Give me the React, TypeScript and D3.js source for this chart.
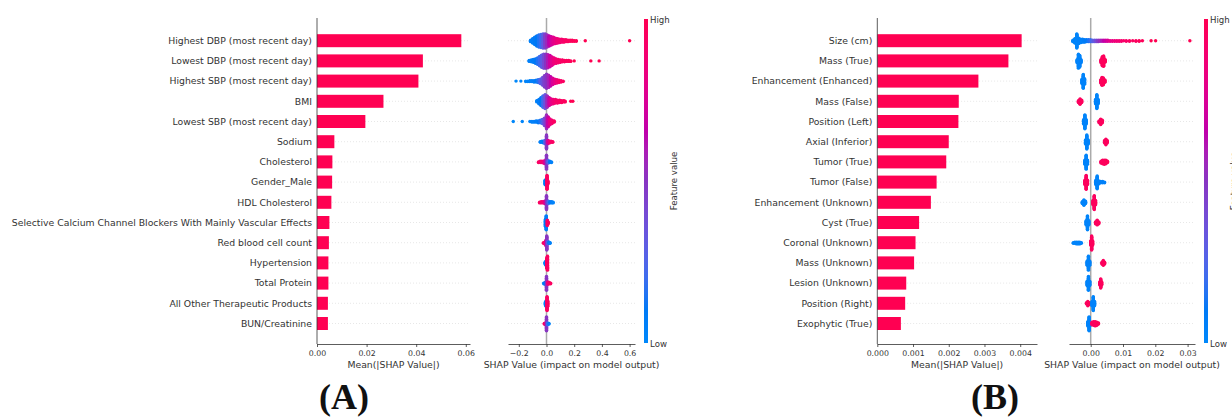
import { useEffect, useRef } from 'react';
import * as d3 from 'd3';

// one beeswarm bin: [shap value, number of points, feature value 0 (low) .. 1 (high)]
type Bin = [number, number, number];

const featuresA = [
  'Highest DBP (most recent day)',
  'Lowest DBP (most recent day)',
  'Highest SBP (most recent day)',
  'BMI',
  'Lowest SBP (most recent day)',
  'Sodium',
  'Cholesterol',
  'Gender_Male',
  'HDL Cholesterol',
  'Selective Calcium Channel Blockers With Mainly Vascular Effects',
  'Red blood cell count',
  'Hypertension',
  'Total Protein',
  'All Other Therapeutic Products',
  'BUN/Creatinine',
];
const meanAbsA = [0.0582, 0.0427, 0.0409, 0.0268, 0.0195, 0.007, 0.0062, 0.0061, 0.0058, 0.005, 0.0048, 0.0046, 0.0046, 0.0044, 0.0044];
const swarmA: Bin[][] = [
  [[-0.115, 4, 0.05], [-0.1, 10, 0.08], [-0.085, 16, 0.1], [-0.07, 22, 0.12], [-0.055, 26, 0.15], [-0.04, 28, 0.2], [-0.025, 30, 0.3], [-0.01, 30, 0.45], [0.005, 26, 0.55], [0.02, 22, 0.65], [0.035, 18, 0.72], [0.05, 15, 0.78], [0.065, 12, 0.82], [0.08, 10, 0.86], [0.095, 8, 0.88], [0.11, 7, 0.9], [0.125, 6, 0.92], [0.14, 5, 0.94], [0.155, 4, 0.95], [0.17, 3, 0.96], [0.185, 3, 0.97], [0.2, 2, 0.98], [0.215, 2, 0.98], [0.28, 1, 1], [0.6, 1, 1]],
  [[-0.125, 3, 0.05], [-0.11, 5, 0.06], [-0.095, 7, 0.08], [-0.08, 10, 0.1], [-0.065, 14, 0.15], [-0.05, 20, 0.2], [-0.035, 26, 0.3], [-0.02, 30, 0.4], [-0.005, 30, 0.5], [0.01, 28, 0.6], [0.025, 24, 0.7], [0.04, 18, 0.78], [0.055, 13, 0.84], [0.07, 10, 0.88], [0.085, 8, 0.9], [0.1, 6, 0.92], [0.115, 5, 0.94], [0.13, 4, 0.95], [0.145, 3, 0.96], [0.16, 3, 0.97], [0.175, 2, 0.98], [0.2, 1, 1], [0.32, 1, 1], [0.38, 1, 1]],
  [[-0.22, 1, 0], [-0.185, 1, 0.02], [-0.15, 2, 0.03], [-0.135, 2, 0.04], [-0.12, 3, 0.05], [-0.105, 3, 0.06], [-0.09, 4, 0.08], [-0.075, 5, 0.1], [-0.06, 7, 0.15], [-0.045, 10, 0.25], [-0.03, 16, 0.35], [-0.015, 24, 0.45], [0, 30, 0.5], [0.015, 26, 0.58], [0.03, 20, 0.66], [0.045, 14, 0.74], [0.06, 10, 0.8], [0.075, 8, 0.85], [0.09, 6, 0.9], [0.105, 4, 0.93], [0.12, 2, 0.95]],
  [[-0.07, 3, 0.05], [-0.055, 8, 0.08], [-0.04, 14, 0.12], [-0.025, 20, 0.2], [-0.01, 24, 0.35], [0.005, 20, 0.55], [0.02, 14, 0.7], [0.035, 10, 0.8], [0.05, 8, 0.86], [0.065, 7, 0.9], [0.08, 6, 0.92], [0.095, 5, 0.94], [0.11, 4, 0.95], [0.125, 3, 0.96], [0.135, 2, 0.97], [0.175, 1, 1], [0.19, 1, 1]],
  [[-0.24, 1, 0], [-0.175, 1, 0.02], [-0.12, 1, 0.04], [-0.105, 2, 0.05], [-0.09, 2, 0.06], [-0.075, 3, 0.08], [-0.06, 4, 0.1], [-0.045, 5, 0.15], [-0.03, 7, 0.25], [-0.015, 12, 0.4], [0, 22, 0.55], [0.012, 16, 0.7], [0.025, 10, 0.82], [0.04, 6, 0.9], [0.055, 3, 0.95]],
  [[-0.045, 2, 0.05], [-0.033, 3, 0.08], [-0.022, 4, 0.12], [-0.011, 6, 0.25], [0, 24, 0.5], [0.011, 6, 0.75], [0.022, 4, 0.88], [0.033, 3, 0.92], [0.045, 2, 0.95]],
  [[-0.058, 2, 0.95], [-0.046, 3, 0.92], [-0.034, 3, 0.9], [-0.022, 4, 0.85], [-0.011, 6, 0.75], [0, 24, 0.5], [0.012, 5, 0.25], [0.024, 3, 0.12], [0.036, 2, 0.06]],
  [[-0.01, 8, 0.05], [-0.003, 10, 0.1], [0.004, 24, 0.95], [0.01, 6, 0.95]],
  [[-0.05, 2, 0.95], [-0.038, 3, 0.92], [-0.026, 3, 0.88], [-0.013, 5, 0.78], [0, 24, 0.5], [0.013, 5, 0.22], [0.026, 3, 0.12], [0.038, 3, 0.08], [0.048, 2, 0.04]],
  [[-0.008, 12, 0.05], [-0.002, 24, 0.08], [0.006, 10, 0.95], [0.012, 4, 0.95]],
  [[-0.022, 2, 0.95], [-0.012, 4, 0.9], [-0.004, 10, 0.8], [0.002, 24, 0.5], [0.01, 5, 0.3], [0.018, 3, 0.1], [0.026, 2, 0.05]],
  [[-0.01, 4, 0.05], [-0.004, 8, 0.06], [0.002, 18, 0.95], [0.007, 24, 0.95]],
  [[-0.02, 2, 0.05], [-0.01, 4, 0.1], [0, 24, 0.5], [0.01, 5, 0.85], [0.02, 3, 0.92], [0.03, 2, 0.95]],
  [[-0.008, 6, 0.05], [-0.003, 10, 0.06], [0.004, 24, 0.95], [0.009, 10, 0.95]],
  [[-0.016, 2, 0.95], [-0.008, 4, 0.9], [0, 24, 0.5], [0.008, 4, 0.2], [0.018, 2, 0.05]],
];
const barTicksA = [0, 0.02, 0.04, 0.06];
const swarmTicksA = [-0.2, 0, 0.2, 0.4, 0.6];

const featuresB = [
  'Size (cm)',
  'Mass (True)',
  'Enhancement (Enhanced)',
  'Mass (False)',
  'Position (Left)',
  'Axial (Inferior)',
  'Tumor (True)',
  'Tumor (False)',
  'Enhancement (Unknown)',
  'Cyst (True)',
  'Coronal (Unknown)',
  'Mass (Unknown)',
  'Lesion (Unknown)',
  'Position (Right)',
  'Exophytic (True)',
];
const meanAbsB = [0.00404, 0.00367, 0.00283, 0.00228, 0.00227, 0.002, 0.00193, 0.00166, 0.0015, 0.00117, 0.00107, 0.00103, 0.00081, 0.00078, 0.00066];
const swarmB: Bin[][] = [
  [[-0.0055, 4, 0.02], [-0.0049, 10, 0.03], [-0.0043, 30, 0.03], [-0.0037, 12, 0.04], [-0.0031, 8, 0.05], [-0.0025, 7, 0.06], [-0.0019, 6, 0.08], [-0.0013, 5, 0.1], [-0.0007, 5, 0.14], [-0.0001, 5, 0.18], [0.0005, 4, 0.25], [0.0011, 4, 0.32], [0.0017, 4, 0.4], [0.0023, 4, 0.48], [0.0029, 3, 0.55], [0.0035, 3, 0.6], [0.0041, 3, 0.66], [0.0047, 3, 0.7], [0.0053, 3, 0.75], [0.006, 2, 0.8], [0.0067, 2, 0.82], [0.0074, 2, 0.85], [0.0081, 2, 0.87], [0.0088, 2, 0.88], [0.0095, 2, 0.9], [0.0102, 1, 0.92], [0.011, 2, 0.93], [0.012, 2, 0.94], [0.013, 1, 0.95], [0.014, 2, 0.96], [0.015, 2, 0.97], [0.016, 1, 0.98], [0.0187, 1, 1], [0.0201, 1, 1], [0.0307, 1, 1]],
  [[-0.0042, 6, 0.03], [-0.0038, 24, 0.03], [-0.0034, 20, 0.04], [-0.003, 6, 0.05], [0.0032, 6, 0.95], [0.0036, 16, 0.96], [0.004, 18, 0.97], [0.0045, 5, 0.98]],
  [[-0.0027, 8, 0.03], [-0.0023, 24, 0.03], [-0.0019, 10, 0.04], [0.0031, 6, 0.95], [0.0035, 14, 0.96], [0.0039, 12, 0.97], [0.0044, 5, 0.98]],
  [[-0.0038, 4, 0.95], [-0.0033, 10, 0.96], [-0.0028, 5, 0.97], [0.0015, 8, 0.04], [0.0019, 24, 0.03], [0.0023, 8, 0.04]],
  [[-0.0022, 8, 0.03], [-0.0018, 24, 0.03], [-0.0014, 8, 0.04], [0.0026, 4, 0.95], [0.0031, 10, 0.96], [0.0036, 5, 0.97]],
  [[-0.0016, 8, 0.03], [-0.0012, 24, 0.03], [-0.0008, 8, 0.04], [0.0043, 5, 0.95], [0.0047, 10, 0.96], [0.0051, 5, 0.97]],
  [[-0.0018, 8, 0.03], [-0.0014, 24, 0.03], [-0.001, 8, 0.04], [0.0032, 4, 0.95], [0.0037, 7, 0.96], [0.0042, 8, 0.96], [0.0047, 7, 0.97], [0.0052, 3, 0.98]],
  [[-0.0018, 8, 0.96], [-0.0014, 24, 0.96], [-0.001, 8, 0.97], [0.0016, 8, 0.04], [0.002, 22, 0.03], [0.0025, 6, 0.04], [0.0031, 3, 0.05], [0.0037, 3, 0.05], [0.0043, 2, 0.06]],
  [[-0.0026, 4, 0.03], [-0.0021, 10, 0.03], [-0.0016, 5, 0.04], [0.0007, 8, 0.96], [0.0011, 24, 0.96], [0.0015, 8, 0.97]],
  [[-0.0014, 8, 0.03], [-0.001, 24, 0.03], [-0.0006, 8, 0.04], [0.0015, 4, 0.95], [0.002, 9, 0.96], [0.0025, 4, 0.97]],
  [[-0.0054, 2, 0.03], [-0.0049, 3, 0.03], [-0.0044, 4, 0.03], [-0.0039, 4, 0.03], [-0.0034, 4, 0.03], [-0.0029, 2, 0.04], [0, 8, 0.96], [0.0003, 24, 0.96], [0.0006, 8, 0.97]],
  [[-0.0011, 8, 0.03], [-0.0007, 24, 0.03], [-0.0003, 8, 0.04], [0.0035, 4, 0.95], [0.0039, 9, 0.96], [0.0043, 4, 0.97]],
  [[-0.0011, 8, 0.03], [-0.0007, 24, 0.03], [-0.0003, 8, 0.04], [0.0028, 6, 0.95], [0.0031, 16, 0.96], [0.0034, 6, 0.97]],
  [[-0.0013, 3, 0.95], [-0.0009, 8, 0.96], [-0.0005, 4, 0.97], [0.0004, 8, 0.04], [0.0008, 24, 0.03], [0.0012, 8, 0.04]],
  [[-0.0009, 8, 0.03], [-0.0005, 24, 0.03], [-0.0001, 6, 0.04], [0.0004, 5, 0.95], [0.0009, 7, 0.96], [0.0014, 8, 0.96], [0.0019, 6, 0.97], [0.0024, 3, 0.98]],
];
const barTicksB = [0, 0.001, 0.002, 0.003, 0.004];
const swarmTicksB = [0, 0.01, 0.02, 0.03];

const W = 1232;
const H = 418;
const FONT = '"DejaVu Sans", sans-serif';
const TEXT = '#333333';
const RED = '#ff0052';

// shap-like red_blue map: blue -> violet -> red
const redBlue = d3.piecewise(d3.interpolateHcl, [
  d3.hcl(266.9, 70, 54),
  d3.hcl(312, 80, 40),
  d3.hcl(380.3, 90, 54),
]);

interface Panel {
  id: string;
  title: string;
  titleX: number;
  features: string[];
  values: number[];
  bins: Bin[][];
  barTicks: number[];
  swarmTicks: number[];
  barFmt: string;
  swarmFmt: string;
  barDomain: [number, number];
  barRange: [number, number];
  swarmDomain: [number, number];
  swarmRange: [number, number];
  cbX: number;
}

const panels: Panel[] = [
  {
    id: 'A', title: '(A)', titleX: 344,
    features: featuresA, values: meanAbsA, bins: swarmA,
    barTicks: barTicksA, swarmTicks: swarmTicksA, barFmt: '.2f', swarmFmt: '.1f',
    barDomain: [0, 0.0617], barRange: [317, 470],
    swarmDomain: [-0.278, 0.639], swarmRange: [508, 635],
    cbX: 644,
  },
  {
    id: 'B', title: '(B)', titleX: 995,
    features: featuresB, values: meanAbsB, bins: swarmB,
    barTicks: barTicksB, swarmTicks: swarmTicksB, barFmt: '.3f', swarmFmt: '.2f',
    barDomain: [0, 0.00447], barRange: [877.3, 1037],
    swarmDomain: [-0.00672, 0.03229], swarmRange: [1069, 1195],
    cbX: 1204,
  },
];

const TOP = 18;
const BOTTOM = 344;

function drawPanel(svg: d3.Selection<SVGSVGElement, unknown, null, undefined>, p: Panel) {
  const y = d3.scalePoint<string>().domain(p.features).range([40.7, 323.5]);
  const step = y.step();
  const xb = d3.scaleLinear().domain(p.barDomain).range(p.barRange);
  const xs = d3.scaleLinear().domain(p.swarmDomain).range(p.swarmRange);
  const g = svg.append('g');

  // dotted row guides
  p.features.forEach((f) => {
    [[xb.range()[0], xb.range()[1]], [xs.range()[0], xs.range()[1]]].forEach(([a, b]) => {
      g.append('line')
        .attr('x1', a).attr('x2', b)
        .attr('y1', y(f)!).attr('y2', y(f)!)
        .attr('stroke', '#cccccc').attr('stroke-width', 0.6)
        .attr('stroke-dasharray', '0.8,2.2');
    });
  });

  // bars
  g.selectAll('rect.bar')
    .data(p.features)
    .enter()
    .append('rect')
    .attr('class', 'bar')
    .attr('x', xb(0))
    .attr('y', (f) => y(f)! - 6.5)
    .attr('width', (_, i) => xb(p.values[i]) - xb(0))
    .attr('height', 13)
    .attr('fill', RED);

  g.selectAll('text.feat')
    .data(p.features)
    .enter()
    .append('text')
    .attr('class', 'feat')
    .attr('x', xb(0) - 5)
    .attr('y', (f) => y(f)!)
    .attr('dy', '0.35em')
    .attr('text-anchor', 'end')
    .attr('font-family', FONT)
    .attr('font-size', 9.3)
    .attr('fill', TEXT)
    .text((f) => f);

  // bar axes
  g.append('line')
    .attr('x1', xb(0)).attr('x2', xb(0))
    .attr('y1', TOP).attr('y2', BOTTOM)
    .attr('stroke', TEXT).attr('stroke-width', 0.8);

  const styleAxis = (sel: d3.Selection<SVGGElement, unknown, null, undefined>) => {
    sel.select('.domain').attr('stroke', TEXT).attr('stroke-width', 0.8);
    sel.selectAll('.tick line').attr('stroke', TEXT).attr('stroke-width', 0.8);
    sel.selectAll('.tick text')
      .attr('font-family', FONT)
      .attr('font-size', 7.8)
      .attr('fill', TEXT);
  };

  const barAxis = g.append('g')
    .attr('transform', `translate(0,${BOTTOM})`)
    .call(
      d3.axisBottom(xb).tickValues(p.barTicks).tickFormat(d3.format(p.barFmt) as any)
        .tickSize(3).tickSizeOuter(0)
    );
  styleAxis(barAxis);

  g.append('text')
    .attr('x', (xb.range()[0] + xb.range()[1]) / 2)
    .attr('y', 367.5)
    .attr('text-anchor', 'middle')
    .attr('font-family', FONT)
    .attr('font-size', 9.3)
    .attr('fill', TEXT)
    .text('Mean(|SHAP Value|)');

  // beeswarm
  g.append('line')
    .attr('x1', xs(0)).attr('x2', xs(0))
    .attr('y1', TOP).attr('y2', BOTTOM)
    .attr('stroke', '#aaaaaa').attr('stroke-width', 1.5);

  p.bins.forEach((row, i) => {
    const cy = y(p.features[i])!;
    const maxLayer = d3.max(row, (b) => Math.ceil((b[1] - 1) / 2)) || 1;
    const k = (step * 0.36) / maxLayer;
    const dots: { x: number; dy: number; c: string }[] = [];
    row.forEach(([v, n, fv]) => {
      for (let j = 0; j < n; j++) {
        const layer = Math.ceil(j / 2) * ((j % 2) * 2 - 1);
        dots.push({ x: xs(v), dy: layer * k, c: redBlue(fv) });
      }
    });
    g.append('g')
      .selectAll('circle')
      .data(dots)
      .enter()
      .append('circle')
      .attr('cx', (d) => d.x)
      .attr('cy', (d) => cy + d.dy)
      .attr('r', 1.7)
      .attr('fill', (d) => d.c);
  });

  const swarmAxis = g.append('g')
    .attr('transform', `translate(0,${BOTTOM})`)
    .call(
      d3.axisBottom(xs).tickValues(p.swarmTicks).tickFormat(d3.format(p.swarmFmt) as any)
        .tickSize(3).tickSizeOuter(0)
    );
  styleAxis(swarmAxis);

  g.append('text')
    .attr('x', (xs.range()[0] + xs.range()[1]) / 2)
    .attr('y', 367.5)
    .attr('text-anchor', 'middle')
    .attr('font-family', FONT)
    .attr('font-size', 9.3)
    .attr('fill', TEXT)
    .text('SHAP Value (impact on model output)');

  // colour bar
  const grad = svg.append('defs')
    .append('linearGradient')
    .attr('id', `cb${p.id}`)
    .attr('x1', 0).attr('x2', 0).attr('y1', 1).attr('y2', 0);
  d3.range(0, 1.0001, 0.05).forEach((t) => {
    grad.append('stop').attr('offset', t).attr('stop-color', redBlue(t));
  });
  g.append('rect')
    .attr('x', p.cbX).attr('y', 19)
    .attr('width', 4).attr('height', 324)
    .attr('fill', `url(#cb${p.id})`);
  g.append('text')
    .attr('x', p.cbX + 6).attr('y', 20).attr('dy', '0.35em')
    .attr('font-family', FONT).attr('font-size', 8.6).attr('fill', TEXT)
    .text('High');
  g.append('text')
    .attr('x', p.cbX + 6).attr('y', 344).attr('dy', '0.35em')
    .attr('font-family', FONT).attr('font-size', 8.6).attr('fill', TEXT)
    .text('Low');
  // in panel B this label runs past the page edge, as in the source figure
  g.append('text')
    .attr('transform', `translate(${p.cbX + 33},181) rotate(-90)`)
    .attr('text-anchor', 'middle')
    .attr('font-family', FONT).attr('font-size', 8.6).attr('fill', TEXT)
    .text('Feature value');

  // panel letter
  g.append('text')
    .attr('x', p.titleX).attr('y', 409)
    .attr('text-anchor', 'middle')
    .attr('font-family', '"Liberation Serif", serif')
    .attr('font-weight', 'bold')
    .attr('font-size', 36)
    .attr('fill', '#111')
    .text(p.title);
}

export default function App() {
  const svgRef = useRef<SVGSVGElement>(null);

  useEffect(() => {
    if (!svgRef.current) return;
    const svg = d3.select(svgRef.current);
    svg.selectAll('*').remove();
    panels.forEach((p) => drawPanel(svg, p));
  }, []);

  return (
    <svg
      ref={svgRef}
      width={W}
      height={H}
      style={{ position: 'absolute', left: 0, top: 0, background: '#fff' }}
    />
  );
}
